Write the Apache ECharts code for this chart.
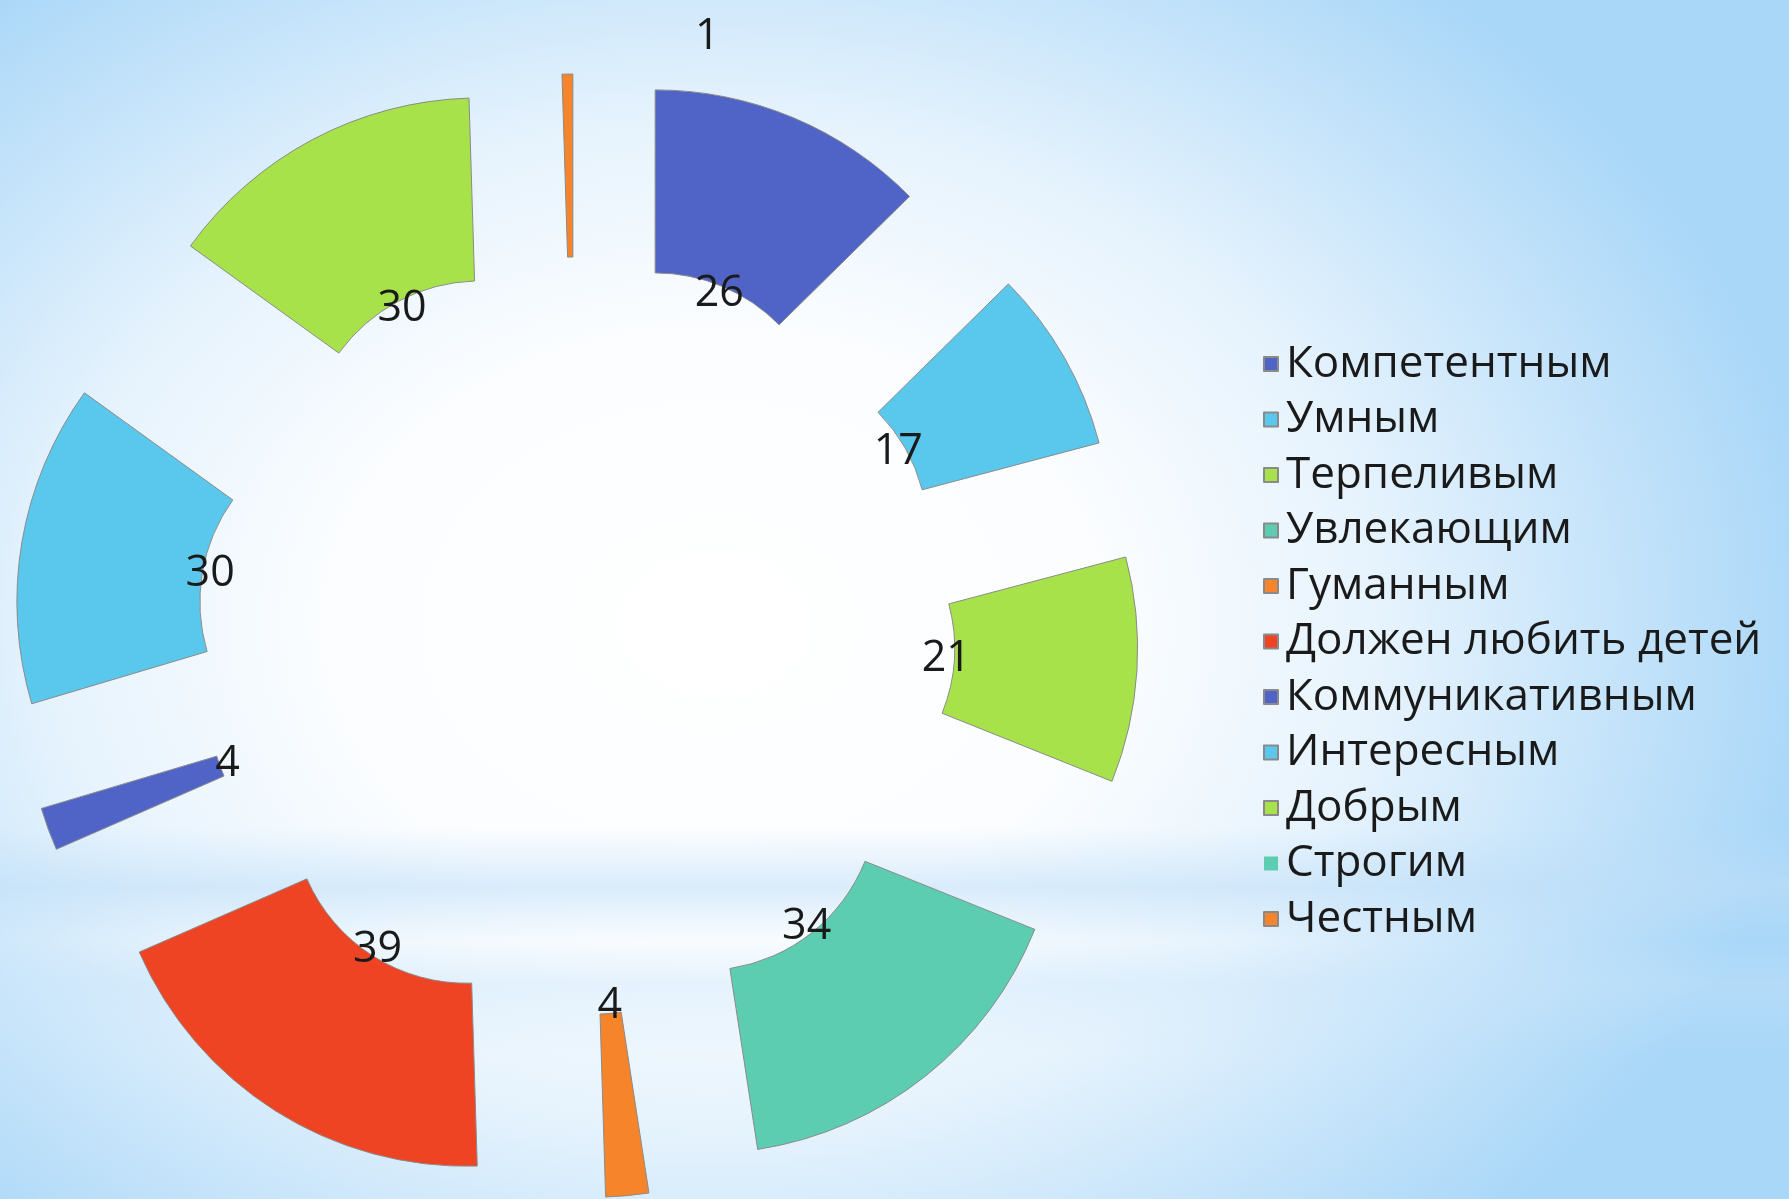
<!DOCTYPE html>
<html>
<head>
<meta charset="utf-8">
<script src="https://cdn.jsdelivr.net/npm/echarts@6/dist/echarts.min.js"></script>
<style>
  html, body { margin: 0; padding: 0; }
  body {
    width: 1789px; height: 1199px; overflow: hidden;
    background:
      linear-gradient(180deg, rgba(255,255,255,0) 0%, rgba(255,255,255,0) 69%, rgba(190,222,248,0.55) 74%, rgba(255,255,255,0) 78.5%, rgba(200,228,250,0.35) 82%, rgba(255,255,255,0) 88%),
      radial-gradient(ellipse 62% 70% at 40% 52%, #ffffff 0%, #fbfdff 35%, #e6f3fd 60%, #c4e3fa 82%, #a9d7f8 100%);
  }
  #chart { width: 1789px; height: 1199px; }
</style>
</head>
<body>
<div id="chart"></div>
<script>
// Качества учителя - ответы
var categories = ['Компетентным', 'Умным', 'Терпеливым', 'Увлекающим', 'Гуманным',
  'Должен любить детей', 'Коммуникативным', 'Интересным', 'Добрым', 'Строгим', 'Честным'];
var values = [26, 17, 21, 34, 4, 39, 4, 30, 30, 0, 1];
var colors = ['#4f64c6', '#5ac8ec', '#a7e24b', '#5ccdb0', '#f5842a',
  '#ee4424', '#4f64c6', '#5ac8ec', '#a7e24b', '#5ccdb0', '#f5842a'];

document.addEventListener('DOMContentLoaded', function () {
    var chartDom = document.getElementById('chart');
    var myChart = echarts.init(chartDom, null, { renderer: 'canvas' });
    var option;

    var center = [576, 636];
    var offset = 205;

    var ringData = categories.map(function (name, i) {
        return {
            name: name,
            value: values[i],
            selected: true,
            itemStyle: {
                color: colors[i],
                borderWidth: values[i] === 0 ? 0 : 1
            }
        };
    });

    // прозрачный слой только для подписей у внутреннего края
    var labelData = categories.map(function (name, i) {
        return { name: name, value: values[i], selected: true };
    });

    option = {
        animation: false,
        backgroundColor: 'transparent',
        legend: {
            orient: 'vertical',
            left: 1258,
            top: 337,
            data: categories,
            icon: 'rect',
            itemWidth: 14,
            itemHeight: 14,
            itemGap: 11.5,
            selectedMode: false,
            textStyle: {
                fontFamily: 'Open Sans',
                fontSize: 44,
                lineHeight: 44,
                color: '#1a1a1a',
                padding: [0, 0, 0, 3]
            }
        },
        series: [
            {
                type: 'pie',
                center: center,
                radius: [174, 357],
                startAngle: 90,
                clockwise: true,
                selectedMode: 'multiple',
                selectedOffset: offset,
                avoidLabelOverlap: false,
                label: { show: false },
                labelLine: { show: false },
                itemStyle: { borderColor: '#8a8a8a' },
                emphasis: { disabled: true },
                data: ringData
            },
            {
                type: 'pie',
                center: center,
                radius: [0, 326],
                startAngle: 90,
                clockwise: true,
                silent: true,
                selectedMode: 'multiple',
                selectedOffset: offset,
                avoidLabelOverlap: false,
                itemStyle: { color: 'rgba(0,0,0,0)', borderWidth: 0 },
                label: {
                    show: true,
                    position: 'inside',
                    fontFamily: 'Open Sans',
                    fontSize: 43,
                    color: '#1a1a1a',
                    formatter: function (p) { return p.value === 0 ? '' : String(p.value); }
                },
                // подпись "Честным" вынесена вверх, как в исходнике
                labelLayout: function (params) {
                    if (categories[params.dataIndex] === 'Честным') {
                        return { dx: 137, dy: -228 };
                    }
                    return {};
                },
                labelLine: { show: false },
                emphasis: { disabled: true },
                data: labelData
            }
        ]
    };

    option && myChart.setOption(option);
});
</script>
</body>
</html>
